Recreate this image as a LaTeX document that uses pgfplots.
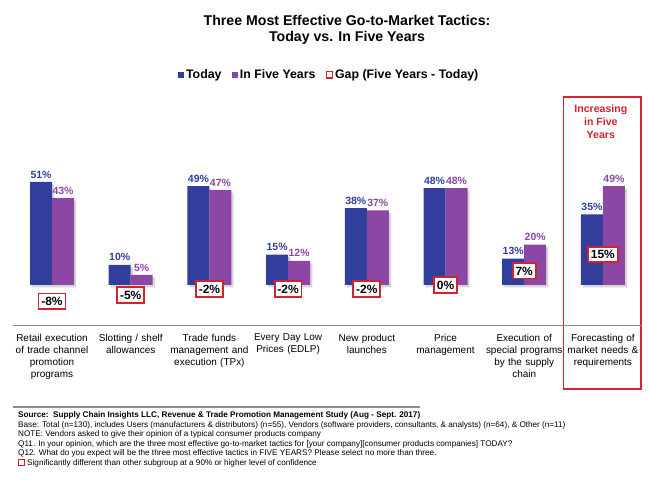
\documentclass[border=0pt]{standalone}
\usepackage{pgfplots}
\pgfplotsset{compat=1.18}
\usepackage{fontspec}
\setmainfont{Liberation Sans}
\definecolor{cblue}{RGB}{50,62,155}
\definecolor{cpurple}{RGB}{139,71,163}
\definecolor{cred}{RGB}{210,35,45}
\definecolor{cgray}{RGB}{140,140,140}
\pgfplotsset{
  sqleg/.style={legend image code/.code={\fill[##1] (0bp,-3.2bp) rectangle (6.4bp,3.2bp);}},
  boxleg/.style={legend image code/.code={\draw[##1] (0.6bp,-3.0bp) rectangle (6.8bp,3.4bp);}},
  barlabel/.style={nodes near coords={\pgfmathprintnumber{\pgfplotspointmeta}\%},
    every node near coord/.append style={font=\bfseries\fontsize{10.5}{12}\selectfont,
      /pgf/number format/assume math mode=true, inner sep=1.5bp, yshift=2bp, text=#1}},
}
\begin{document}
\begin{tikzpicture}[x=1bp,y=1bp]
\path[use as bounding box] (0,0) rectangle (650,488);
% title
\node[align=center, font=\bfseries\fontsize{14.2}{16.6}\selectfont] at (347,458)
  {Three Most Effective Go-to-Market Tactics:\\Today vs. In Five Years};
% highlight box
\draw[cred, line width=1.6bp] (563.3,98.9) rectangle (640.7,390.7);
\node[align=center, text=cred, font=\bfseries\fontsize{10.6}{13.3}\selectfont] at (600.8,366.2)
  {Increasing\\in Five\\Years};
\begin{axis}[
  at={(12.65bp,162.6bp)}, anchor=south west,
  scale only axis, width=629.6bp, height=161.6bp,
  xmin=-0.5, xmax=7.5, ymin=-20, ymax=60,
  axis x line*=bottom, axis y line=none, ytick=\empty,
  x axis line style={draw=cgray, line width=1.5bp, -},
  xtick={0,...,7}, xtick style={draw=none},
  xticklabels={{Retail execution\\of trade channel\\promotion\\programs},
    {Slotting / shelf\\allowances},
    {Trade funds\\management and\\execution (TPx)},
    {Every Day Low\\Prices (EDLP)},
    {New product\\launches},
    {Price\\management},
    {Execution of\\special programs\\by the supply\\chain},
    {Forecasting of\\market needs \&\\requirements}},
  xticklabel style={font=\fontsize{10}{12.2}\selectfont, align=center, text width=82bp, anchor=north, inner sep=0pt, yshift=-4bp},
  ybar, bar width=22bp,
  clip=false,
  legend style={at={(axis description cs:0.5025,1.5495)}, anchor=center, draw=none, fill=none,
    legend columns=3, font=\bfseries\fontsize{12.4}{14}\selectfont,
    /tikz/every even column/.append style={column sep=8bp},
    nodes={inner sep=2bp}},
]
% light drop shadows (same values, drawn offset)
\addplot[fill=black!16, draw=none, forget plot, bar shift=-11bp, xshift=2.2bp, yshift=-2.5bp]
  coordinates {(0,51) (1,10) (2,49) (3,15) (4,38) (5,48) (6,13) (7,35)};
\addplot[fill=black!16, draw=none, forget plot, bar shift=11bp, xshift=2.2bp, yshift=-2.5bp]
  coordinates {(0,43) (1,5) (2,47) (3,12) (4,37) (5,48) (6,20) (7,49)};
% bars
\addplot[fill=cblue, draw=none, forget plot, bar shift=-11bp, barlabel=cblue]
  coordinates {(0,51) (1,10) (2,49) (3,15) (4,38) (5,48) (6,13) (7,35)};
\addplot[fill=cpurple, draw=none, forget plot, bar shift=11bp, barlabel=cpurple]
  coordinates {(0,43) (1,5) (2,47) (3,12) (4,37) (5,48) (6,20) (7,49)};
\addlegendimage{fill=cblue, draw=none, sqleg}
\addlegendentry{Today}
\addlegendimage{fill=cpurple, draw=none, sqleg}
\addlegendentry{In Five Years}
\addlegendimage{draw=cred, fill=white, line width=1.4bp, boxleg}
\addlegendentry{Gap (Five Years - Today)}
\end{axis}
\begin{axis}[
  at={(12.65bp,162.6bp)}, anchor=south west,
  scale only axis, width=629.6bp, height=161.6bp,
  xmin=-0.5, xmax=7.5, ymin=-20, ymax=60,
  hide axis, clip=false,
]
\addplot[only marks, mark=*, mark size=0pt, point meta=explicit symbolic,
  nodes near coords={\pgfplotspointmeta\%}, nodes near coords align={center},
  every node near coord/.append style={anchor=center, draw=cred, fill=white, line width=1.8bp,
    font=\bfseries\fontsize{12}{14}\selectfont, text=black,
    inner xsep=2.8bp, inner ysep=3.4bp, text height=8.6bp, text depth=0pt}]
  coordinates {(0,-8) [-8] (1,-5) [-5] (2,-2) [-2] (3,-2) [-2] (4,-2) [-2] (5,0) [0] (6,7) [7] (7,15) [15]};
\end{axis}
% footnotes
\draw[cgray, line width=1.5bp] (13,81) -- (420,81);
\begin{scope}[every node/.style={anchor=base west, inner sep=0pt, font=\fontsize{8.2}{9.5}\selectfont}]
\node at (18,70.1) {\bfseries Source:\ \ Supply Chain Insights LLC, Revenue \& Trade Promotion Management Study (Aug - Sept. 2017)};
\node at (18,60.6) {Base: Total (n=130), includes Users (manufacturers \& distributors) (n=55), Vendors (software providers, consultants, \& analysts) (n=64), \& Other (n=11)};
\node at (18,51.1) {NOTE: Vendors asked to give their opinion of a typical consumer products company};
\node at (18,41.6) {Q11. In your opinion, which are the three most effective go-to-market tactics for [your company][consumer products companies] TODAY?};
\node at (18,32.1) {Q12. What do you expect will be the three most effective tactics in FIVE YEARS? Please select no more than three.};
\node at (27,22.6) {Significantly different than other subgroup at a 90\% or higher level of confidence};
\end{scope}
\draw[cred, line width=1.2bp] (18.8,22.6) rectangle (24.4,28.2);
\end{tikzpicture}
\end{document}
